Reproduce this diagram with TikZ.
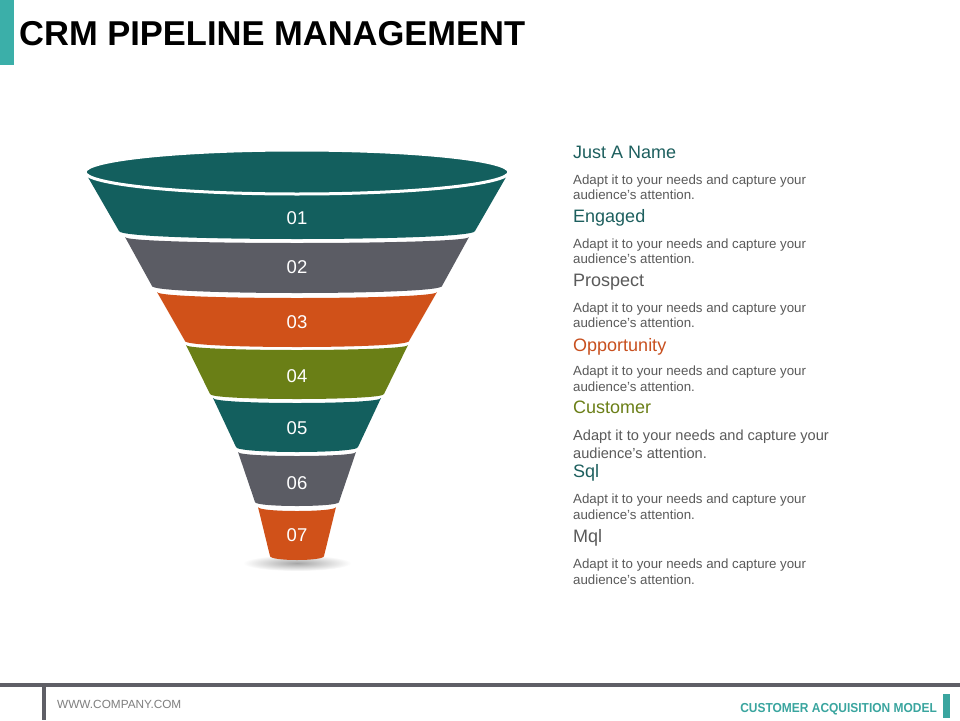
\documentclass[tikz,border=0pt]{standalone}
\usepackage{fontspec}
\setmainfont{Liberation Sans}
\newfontfamily\footbold[FakeStretch=0.92]{Liberation Sans Bold}
\definecolor{fteal}{HTML}{135F5E}
\definecolor{fgrey}{HTML}{5B5C64}
\definecolor{forange}{HTML}{D05119}
\definecolor{folive}{HTML}{6A7F16}
\definecolor{hteal}{HTML}{1D5F5E}
\definecolor{hgrey}{HTML}{5A5A5A}
\definecolor{horange}{HTML}{C8501F}
\definecolor{holive}{HTML}{6B7F17}
\definecolor{bodygrey}{HTML}{5A5A5A}
\definecolor{accent}{HTML}{3BAFA9}
\definecolor{footline}{HTML}{5F5F66}
\definecolor{footteal}{HTML}{3AA59F}
\definecolor{footgrey}{HTML}{7F7F7F}
\newcommand\funnelseg[8]{% name color yt ht yb hb st sb
  \fill[#2] ({297-#4},#3) .. controls ({297-#4},{#3+4*#7/3}) and ({297+#4},{#3+4*#7/3}) .. ({297+#4},#3)
    -- ({297+#6},#5) .. controls ({297+#6},{#5+4*#8/3}) and ({297-#6},{#5+4*#8/3}) .. ({297-#6},#5) -- cycle;
  \coordinate (#1) at (297,#3);}
\tikzset{
  num/.style={text=white, font=\fontsize{18.5}{21}\selectfont, inner sep=0pt},
  head/.style={anchor=base west, inner sep=0pt, font=\fontsize{18}{21}\selectfont},
  body/.style={anchor=base west, inner sep=0pt, text=bodygrey, font=\fontsize{13.3}{16}\selectfont},
  bodybig/.style={anchor=base west, inner sep=0pt, text=bodygrey, font=\fontsize{14.6}{18}\selectfont},
}
\begin{document}
\begin{tikzpicture}[x=1pt,y=-1pt]
\useasboundingbox[fill=white] (0,0) rectangle (960,720);
% title
\fill[accent] (0,0) rectangle (14,65);
\node[anchor=base west, inner sep=0pt, font=\bfseries\fontsize{34.5}{40}\selectfont] (title) at (19,45) {CRM PIPELINE MANAGEMENT};
% shadow
\shade[inner color=black!35, outer color=white] (297,563) ellipse [x radius=54pt, y radius=8pt];
% funnel
\funnelseg{s1}{fteal}{172}{212}{231}{178}{0}{8}
\funnelseg{s2}{fgrey}{237}{172}{286}{145}{6}{7}
\funnelseg{s3}{forange}{292}{140}{341}{112}{6}{6}
\funnelseg{s4}{folive}{345}{111}{394}{87}{5}{5}
\funnelseg{s5}{fteal}{398}{84}{447}{61}{5}{5}
\funnelseg{s6}{fgrey}{452}{59}{502}{42}{4}{4}
\funnelseg{s7}{forange}{507}{39}{556}{27}{4}{4}
\draw[white, line width=3pt, fill=fteal] (297,172) ellipse [x radius=212pt, y radius=22pt];
\node[num] (n1) at (297,218) {01};
\node[num] (n2) at (297,267) {02};
\node[num] (n3) at (297,322) {03};
\node[num] (n4) at (297,376) {04};
\node[num] (n5) at (297,428) {05};
\node[num] (n6) at (297,483) {06};
\node[num] (n7) at (297,535) {07};
% descriptions
\node[head, text=hteal] (h1) at (573,158) {Just A Name};
\node[body] (b1a) at (573,184) {Adapt it to your needs and capture your};
\node[body] (b1b) at (573,199) {audience's attention.};
\node[head, text=hteal] (h2) at (573,222) {Engaged};
\node[body] (b2a) at (573,248) {Adapt it to your needs and capture your};
\node[body] (b2b) at (573,263) {audience's attention.};
\node[head, text=hgrey] (h3) at (573,286) {Prospect};
\node[body] (b3a) at (573,312) {Adapt it to your needs and capture your};
\node[body] (b3b) at (573,327) {audience's attention.};
\node[head, text=horange] (h4) at (573,351) {Opportunity};
\node[body] (b4a) at (573,375) {Adapt it to your needs and capture your};
\node[body] (b4b) at (573,391) {audience's attention.};
\node[head, text=holive] (h5) at (573,413) {Customer};
\node[bodybig] (b5a) at (573,440) {Adapt it to your needs and capture your};
\node[bodybig] (b5b) at (573,458) {audience's attention.};
\node[head, text=hteal] (h6) at (573,477) {Sql};
\node[body] (b6a) at (573,503) {Adapt it to your needs and capture your};
\node[body] (b6b) at (573,519) {audience's attention.};
\node[head, text=hgrey] (h7) at (573,542) {Mql};
\node[body] (b7a) at (573,568) {Adapt it to your needs and capture your};
\node[body] (b7b) at (573,584) {audience's attention.};
% footer
\fill[footline] (0,683) rectangle (960,687);
\fill[footline] (42,687) rectangle (46,720);
\fill[footteal] (943,694) rectangle (950,718);
\node[anchor=base west, inner sep=0pt, text=footgrey, font=\fontsize{11.8}{14}\selectfont] (www) at (57,708) {WWW.COMPANY.COM};
\node[anchor=base east, inner sep=0pt, text=footteal, font=\footbold\fontsize{13}{15}\selectfont] (cam) at (937,712) {CUSTOMER ACQUISITION MODEL};
\end{tikzpicture}
\end{document}
